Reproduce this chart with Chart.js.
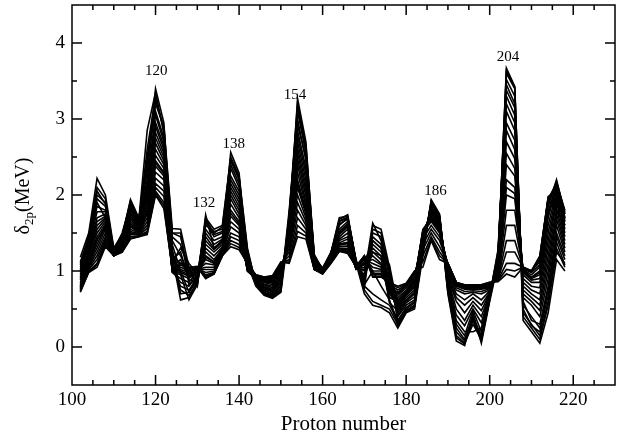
<!DOCTYPE html>
<html>
<head>
<meta charset="utf-8">
<script src="https://cdn.jsdelivr.net/npm/chart.js@4.4.0/dist/chart.umd.min.js"></script>
<style>
  html, body { margin: 0; padding: 0; background: #fff; }
  #wrap { width: 618px; height: 441px; }
</style>
</head>
<body>
<div id="wrap"><canvas id="grafica"></canvas></div>
<script>
// Z = 102 ... 218, paso 2
const protonZ = [102,104,106,108,110,112,114,116,118,120,122,124,126,128,130,132,134,136,138,140,
                 142,144,146,148,150,152,154,156,158,160,162,164,166,168,170,172,174,176,178,180,
                 182,184,186,188,190,192,194,196,198,200,202,204,206,208,210,212,214,216,218];

// delta_2p (MeV), una curva por parametrización
const s01 = [1.18,1.50,2.22,2.00,1.30,1.45,1.94,1.70,2.35,3.40,2.95,1.20,0.62,0.65,0.85,1.74,1.30,1.40,2.56,2.29,1.10,0.80,0.68,0.64,0.72,1.55,3.27,2.70,1.15,1.00,1.20,1.65,1.70,1.10,0.70,0.55,0.52,0.45,0.25,0.45,0.50,1.20,1.94,1.75,0.70,0.08,0.02,0.45,0.05,0.60,1.10,3.67,3.43,0.35,0.20,0.05,0.45,1.15,1.00];
const s02 = [1.10,1.45,2.10,1.95,1.28,1.42,1.90,1.68,2.85,3.35,2.80,1.30,0.70,0.72,0.88,1.65,1.45,1.50,2.45,2.20,1.15,0.82,0.70,0.66,0.75,1.70,3.15,2.60,1.20,1.02,1.22,1.68,1.74,1.12,0.75,0.60,0.55,0.50,0.30,0.48,0.55,1.25,1.90,1.70,0.75,0.15,0.05,0.30,0.10,0.62,1.15,3.60,3.40,0.45,0.30,0.15,0.60,1.30,1.05];
const s03 = [1.05,1.40,2.00,1.90,1.25,1.40,1.85,1.65,2.30,3.20,2.90,1.56,1.55,1.05,0.82,1.60,1.52,1.55,2.35,2.10,1.25,0.85,0.72,0.68,0.78,1.80,3.00,2.45,1.18,1.04,1.25,1.60,1.70,1.15,0.80,0.70,0.62,0.55,0.35,0.50,0.58,1.30,1.88,1.72,0.80,0.25,0.10,0.40,0.15,0.65,1.20,3.45,3.20,0.55,0.40,0.25,0.75,1.45,1.15];
const s04 = [1.00,1.35,1.85,1.80,1.30,1.48,1.80,1.62,2.20,3.05,2.70,1.40,1.20,0.95,0.90,1.55,1.40,1.45,2.25,2.05,1.20,0.88,0.75,0.70,0.82,1.65,2.85,2.35,1.15,1.03,1.23,1.55,1.65,1.12,0.85,1.55,1.50,0.90,0.40,0.55,0.62,1.35,1.85,1.68,0.85,0.35,0.20,0.20,0.25,0.68,1.25,3.30,3.05,0.65,0.55,0.40,0.90,1.60,1.25];
const s05 = [0.95,1.30,1.70,1.75,1.27,1.40,1.75,1.60,2.10,2.90,2.60,1.10,0.75,0.68,0.85,1.45,1.30,1.40,2.15,1.95,1.10,0.84,0.78,0.72,0.85,1.60,2.70,2.20,1.10,1.00,1.20,1.50,1.60,1.08,0.95,1.63,1.40,0.80,0.45,0.60,0.70,1.40,1.82,1.65,0.90,0.50,0.35,0.55,0.40,0.70,1.10,3.10,2.85,0.75,0.65,0.55,1.10,1.75,1.35];
const s06 = [0.90,1.25,1.60,1.70,1.25,1.38,1.70,1.58,2.00,2.75,2.50,1.05,0.80,0.75,0.90,1.35,1.25,1.35,2.05,1.85,1.05,0.86,0.80,0.76,0.90,1.55,2.55,2.05,1.08,0.99,1.18,1.45,1.55,1.05,1.00,1.40,1.30,0.75,0.50,0.65,0.75,1.45,1.80,1.62,0.95,0.65,0.55,0.65,0.55,0.72,1.05,2.85,2.60,0.85,0.75,0.70,1.30,1.90,1.45];
const s07 = [0.85,1.20,1.50,1.65,1.23,1.35,1.65,1.55,1.90,2.60,2.40,1.00,0.85,0.80,0.95,1.25,1.15,1.30,1.95,1.75,1.02,0.88,0.83,0.80,0.95,1.50,2.40,1.90,1.06,0.98,1.16,1.40,1.45,1.03,1.05,1.30,1.20,0.70,0.55,0.70,0.80,1.50,1.75,1.58,1.00,0.75,0.70,0.72,0.70,0.75,1.00,2.55,2.35,0.95,0.85,0.85,1.50,2.00,1.55];
const s08 = [0.80,1.12,1.40,1.60,1.22,1.32,1.60,1.52,1.80,2.45,2.30,0.98,0.90,0.85,1.00,1.15,1.10,1.28,1.80,1.65,1.00,0.90,0.86,0.84,1.00,1.45,2.20,1.80,1.05,0.97,1.15,1.35,1.38,1.02,1.10,1.20,1.10,0.65,0.60,0.72,0.85,1.55,1.70,1.55,1.05,0.80,0.76,0.76,0.76,0.78,0.95,2.20,2.10,1.00,0.90,0.95,1.70,2.10,1.65];
const s09 = [0.78,1.08,1.30,1.55,1.21,1.30,1.55,1.50,1.70,2.30,2.20,0.99,0.95,0.90,1.02,1.05,1.05,1.25,1.65,1.55,1.02,0.92,0.88,0.88,1.05,1.35,2.00,1.70,1.04,0.98,1.14,1.32,1.33,1.04,1.15,1.10,1.05,0.72,0.65,0.75,0.90,1.50,1.65,1.50,1.08,0.82,0.79,0.78,0.78,0.80,0.92,1.80,1.80,1.02,0.95,1.05,1.85,2.20,1.75];
const s10 = [0.76,1.04,1.20,1.45,1.20,1.28,1.50,1.48,1.60,2.15,2.05,1.01,1.00,0.95,1.03,0.98,1.00,1.22,1.50,1.45,1.05,0.93,0.90,0.90,1.08,1.25,1.80,1.60,1.03,0.99,1.12,1.29,1.28,1.05,1.18,1.00,1.00,0.78,0.70,0.80,0.95,1.35,1.55,1.40,1.10,0.84,0.80,0.80,0.80,0.82,0.90,1.40,1.40,1.04,1.00,1.12,1.95,2.15,1.80];
const s11 = [0.74,1.00,1.10,1.38,1.20,1.26,1.45,1.46,1.52,2.05,1.90,1.02,1.05,1.00,1.04,0.93,0.97,1.21,1.40,1.35,1.08,0.94,0.91,0.92,1.10,1.15,1.60,1.50,1.02,0.97,1.11,1.27,1.25,1.06,1.20,0.95,0.95,0.82,0.75,0.82,0.98,1.20,1.45,1.25,1.10,0.85,0.81,0.81,0.81,0.84,0.88,1.10,1.10,1.05,1.00,1.18,1.98,2.05,1.70];
const s12 = [0.72,0.98,1.05,1.32,1.20,1.25,1.42,1.45,1.48,2.00,1.82,1.03,1.08,1.02,1.05,0.90,0.96,1.20,1.32,1.28,1.10,0.95,0.92,0.94,1.12,1.10,1.45,1.42,1.02,0.96,1.10,1.26,1.23,1.06,1.20,0.92,0.92,0.85,0.80,0.84,1.00,1.05,1.40,1.15,1.10,0.85,0.82,0.82,0.82,0.85,0.86,0.96,0.92,1.05,1.00,1.20,1.95,1.80,1.60];
const s13 = [1.12,1.42,1.95,1.85,1.27,1.50,1.88,1.66,2.60,3.30,2.85,1.45,1.35,1.00,0.80,1.70,1.55,1.60,2.50,2.25,1.30,0.83,0.69,0.65,0.73,1.75,3.20,2.65,1.22,1.01,1.24,1.70,1.72,1.14,0.78,1.60,1.55,1.05,0.32,0.47,0.52,1.28,1.92,1.73,0.72,0.12,0.04,0.35,0.08,0.63,1.18,3.63,3.42,0.40,0.25,0.10,0.55,1.25,1.10];
const s14 = [0.98,1.32,1.78,1.78,1.26,1.36,1.78,1.61,2.15,2.95,2.65,1.25,0.95,0.62,0.82,1.50,1.35,1.42,2.20,2.00,1.18,0.86,0.76,0.74,0.84,1.62,2.78,2.28,1.12,1.01,1.21,1.52,1.62,1.10,0.90,1.50,1.45,1.00,0.42,0.58,0.66,1.38,1.84,1.66,0.88,0.42,0.28,0.50,0.32,0.69,1.22,3.20,2.95,0.70,0.60,0.48,1.00,1.68,1.30];
const s15 = [0.88,1.22,1.55,1.68,1.24,1.33,1.68,1.56,1.95,2.68,2.45,1.50,1.45,0.98,0.93,1.30,1.20,1.32,2.00,1.80,1.04,0.87,0.82,0.78,0.92,1.52,2.48,1.98,1.07,0.98,1.17,1.42,1.50,1.04,1.02,1.35,1.25,1.08,0.52,0.68,0.78,1.48,1.78,1.60,0.98,0.70,0.62,0.70,0.62,0.74,1.02,2.70,2.48,0.90,0.80,0.78,1.40,1.95,1.50];
const s16 = [0.79,1.10,1.35,1.58,1.22,1.31,1.58,1.51,1.75,2.38,2.25,1.20,1.10,1.05,1.01,1.10,1.08,1.26,1.72,1.60,1.01,0.91,0.87,0.86,1.02,1.40,2.10,1.75,1.04,0.97,1.14,1.34,1.36,1.03,1.12,1.15,1.08,0.95,0.62,0.73,0.88,1.52,1.68,1.52,1.06,0.81,0.78,0.77,0.77,0.79,0.94,2.00,1.95,1.01,0.92,1.00,1.78,2.15,1.70];
const s17 = [1.02,1.38,1.90,1.70,1.24,1.44,1.82,1.64,2.50,3.10,2.75,1.35,1.00,0.72,0.95,1.62,1.48,1.52,2.40,2.15,1.22,0.84,0.74,0.70,0.80,1.68,2.92,2.50,1.16,1.02,1.24,1.62,1.68,1.13,0.88,1.45,1.35,0.60,0.35,0.52,0.60,1.32,1.86,1.70,0.82,0.30,0.15,0.48,0.20,0.66,1.28,3.38,3.15,0.60,0.35,0.30,0.80,1.50,1.20];
const s18 = [0.92,1.28,1.65,1.72,1.26,1.39,1.72,1.59,2.05,2.82,2.55,1.15,1.25,0.88,0.88,1.40,1.28,1.38,2.10,1.90,1.08,0.85,0.79,0.74,0.88,1.58,2.62,2.12,1.09,1.00,1.19,1.48,1.58,1.06,0.92,1.25,1.20,0.58,0.48,0.62,0.72,1.42,1.81,1.63,0.92,0.60,0.45,0.60,0.48,0.71,1.08,2.95,2.72,0.80,0.70,0.62,1.20,1.82,1.40];
const s19 = [0.83,1.16,1.45,1.62,1.23,1.34,1.62,1.54,1.85,2.52,2.35,1.08,1.15,0.92,0.97,1.20,1.12,1.29,1.88,1.70,1.01,0.89,0.85,0.82,0.98,1.48,2.30,1.85,1.05,0.98,1.15,1.37,1.42,1.03,1.08,1.25,1.15,0.90,0.58,0.70,0.82,1.52,1.72,1.56,1.02,0.78,0.73,0.74,0.73,0.77,0.97,2.40,2.25,0.98,0.88,0.90,1.60,2.05,1.60];
const s20 = [0.75,1.02,1.15,1.42,1.20,1.27,1.48,1.47,1.56,2.10,1.98,1.02,1.02,0.98,1.04,0.95,0.98,1.21,1.45,1.40,1.06,0.93,0.90,0.91,1.09,1.20,1.70,1.55,1.02,0.98,1.11,1.28,1.26,1.05,1.19,0.97,0.97,0.80,0.72,0.81,0.96,1.28,1.50,1.32,1.10,0.85,0.80,0.80,0.80,0.83,0.89,1.25,1.25,1.04,1.00,1.15,1.96,2.10,1.75];
const s21 = [0.77,1.06,1.25,1.50,1.21,1.29,1.52,1.49,1.65,2.22,2.12,1.00,0.98,0.93,1.02,1.02,1.02,1.24,1.58,1.50,1.03,0.92,0.89,0.89,1.06,1.30,1.90,1.65,1.03,0.98,1.13,1.30,1.30,1.04,1.16,1.05,1.02,0.75,0.68,0.78,0.92,1.42,1.60,1.45,1.09,0.83,0.80,0.79,0.79,0.81,0.91,1.60,1.60,1.03,0.98,1.08,1.90,2.18,1.78];
const s22 = [0.81,1.14,1.42,1.56,1.22,1.33,1.59,1.52,1.78,2.42,2.28,1.12,1.30,1.10,0.96,1.18,1.12,1.27,1.76,1.62,1.00,0.90,0.86,0.85,1.01,1.42,2.15,1.78,1.05,0.97,1.15,1.36,1.37,1.03,1.11,1.40,1.30,1.00,0.55,0.70,0.86,1.53,1.69,1.54,1.05,0.81,0.77,0.77,0.77,0.79,0.95,2.10,2.02,1.00,0.91,0.98,1.75,2.12,1.68];
const s23 = [0.73,0.99,1.08,1.35,1.20,1.25,1.43,1.45,1.50,2.02,1.86,1.04,1.10,1.05,1.06,0.91,0.96,1.20,1.36,1.31,1.09,0.95,0.92,0.93,1.11,1.12,1.52,1.46,1.02,0.96,1.10,1.26,1.24,1.06,1.20,0.93,0.93,0.84,0.78,0.83,0.99,1.12,1.42,1.20,1.10,0.85,0.82,0.82,0.82,0.85,0.87,1.02,1.00,1.05,1.00,1.19,1.96,1.90,1.65];
const s24 = [1.08,1.46,2.05,1.88,1.26,1.46,1.92,1.67,2.45,3.25,2.88,1.50,1.50,0.82,0.92,1.68,1.50,1.58,2.48,2.22,1.28,0.83,0.71,0.67,0.76,1.72,3.10,2.55,1.20,1.01,1.23,1.66,1.71,1.13,0.82,1.00,0.80,0.62,0.28,0.46,0.54,1.26,1.91,1.72,0.78,0.20,0.08,0.38,0.12,0.64,1.16,3.52,3.30,0.50,0.28,0.20,0.68,1.38,1.08];

// números mágicos anotados
const peakLabels = ['120', '132', '138', '154', '186', '204'];
const peakZ      = [120.2, 131.6, 138.7, 153.4, 187.0, 204.4];
const peakY      = [3.63, 1.90, 2.67, 3.31, 2.05, 3.81];

const xTicks = [100, 120, 140, 160, 180, 200, 220];
const yTicks = [0, 1, 2, 3, 4];

const curvas = [s01, s02, s03, s04, s05, s06, s07, s08, s09, s10, s11, s12,
                s13, s14, s15, s16, s17, s18, s19, s20, s21, s22, s23, s24];
const serif = '"Liberation Serif", "DejaVu Serif", serif';

// marco con marcas hacia dentro, en los cuatro lados
const marcoPlugin = {
    id: 'marco',
    afterDatasetsDraw(chart) {
        const { ctx, chartArea: a, scales: { x, y } } = chart;
        ctx.save();
        ctx.strokeStyle = '#000';
        ctx.lineWidth = 1.5;
        ctx.strokeRect(a.left, a.top, a.right - a.left, a.bottom - a.top);
        ctx.beginPath();
        for (let v = x.min + 5; v < x.max; v += 5) {
            const px = x.getPixelForValue(v);
            const len = (v % 20 === 0) ? 10 : 5;
            ctx.moveTo(px, a.bottom); ctx.lineTo(px, a.bottom - len);
            ctx.moveTo(px, a.top); ctx.lineTo(px, a.top + len);
        }
        for (let v = y.min + 0.5; v < y.max; v += 0.5) {
            const py = y.getPixelForValue(v);
            const len = (Math.abs(v - Math.round(v)) < 1e-6) ? 10 : 5;
            ctx.moveTo(a.left, py); ctx.lineTo(a.left + len, py);
            ctx.moveTo(a.right, py); ctx.lineTo(a.right - len, py);
        }
        ctx.stroke();

        // etiquetas de los picos
        ctx.fillStyle = '#000';
        ctx.font = '15px ' + serif;
        ctx.textAlign = 'center';
        ctx.textBaseline = 'middle';
        peakLabels.forEach((t, i) => {
            ctx.fillText(t, x.getPixelForValue(peakZ[i]), y.getPixelForValue(peakY[i]));
        });

        // título del eje y con subíndice
        const big = '20px ' + serif, small = '13px ' + serif;
        ctx.font = big;  const w1 = ctx.measureText('δ').width;
        const w3 = ctx.measureText('(MeV)').width;
        ctx.font = small; const w2 = ctx.measureText('2p').width;
        const total = w1 + w2 + w3;
        ctx.translate(23, 196);
        ctx.rotate(-Math.PI / 2);
        ctx.textAlign = 'left';
        ctx.textBaseline = 'alphabetic';
        let cx = -total / 2;
        ctx.font = big;  ctx.fillText('δ', cx, 6); cx += w1;
        ctx.font = small; ctx.fillText('2p', cx, 10); cx += w2;
        ctx.font = big;  ctx.fillText('(MeV)', cx, 6);
        ctx.restore();
    }
};

new Chart(document.getElementById('grafica'), {
    type: 'line',
    data: {
        datasets: curvas.map((c, k) => ({
            label: 'set ' + (k + 1),
            data: protonZ.map((z, i) => ({ x: z, y: c[i] })),
            borderColor: '#000',
            borderWidth: 1.6,
            pointRadius: 0,
            tension: 0,
            fill: false
        }))
    },
    options: {
        responsive: true,
        maintainAspectRatio: false,
        animation: false,
        layout: { padding: { top: 5, right: 3, left: 0, bottom: 0 } },
        plugins: { legend: { display: false }, tooltip: { enabled: false } },
        scales: {
            x: {
                type: 'linear', min: 100, max: 230,
                afterBuildTicks: s => { s.ticks = xTicks.map(v => ({ value: v })); },
                afterFit: s => { s.height = 56; s.paddingLeft = 0; s.paddingRight = 0; },
                grid: { display: false, drawTicks: false },
                border: { display: false },
                ticks: { color: '#000', padding: 4, maxRotation: 0, font: { family: serif, size: 19 } },
                title: { display: true, text: 'Proton number', color: '#000', padding: { top: 1 }, font: { family: serif, size: 21 } }
            },
            y: {
                type: 'linear', min: -0.5, max: 4.5,
                afterBuildTicks: s => { s.ticks = yTicks.map(v => ({ value: v })); },
                afterFit: s => { s.width = 72; s.paddingTop = 0; s.paddingBottom = 0; },
                grid: { display: false, drawTicks: false },
                border: { display: false },
                ticks: { color: '#000', padding: 7, font: { family: serif, size: 19 } }
            }
        }
    },
    plugins: [marcoPlugin]
});
</script>
</body>
</html>
